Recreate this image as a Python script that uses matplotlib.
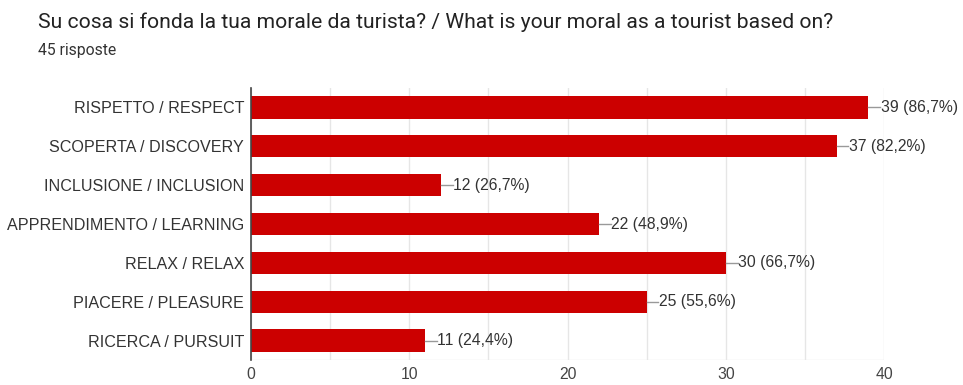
import numpy as np
from matplotlib import pyplot as plt

categories = ["RISPETTO / RESPECT", "SCOPERTA / DISCOVERY", "INCLUSIONE / INCLUSION",
              "APPRENDIMENTO / LEARNING", "RELAX / RELAX", "PIACERE / PLEASURE",
              "RICERCA / PURSUIT"]
counts = [39, 37, 12, 22, 30, 25, 11]
total = 45

plt.rcParams['font.family'] = ['Liberation Sans', 'DejaVu Sans']

fig = plt.figure(figsize=(9.63, 3.85), dpi=100)
ax = fig.add_axes([251 / 963, 1 - 360 / 385, (884 - 251) / 963, (360 - 88) / 385])

y = np.arange(len(categories))
ax.barh(y, counts, height=0.57, color="#cc0000", zorder=3)

for yi, c in zip(y, counts):
    pct = f"{c / total * 100:.1f}".replace(".", ",")
    ax.plot([c, c + 0.75], [yi, yi], color="#999999", lw=1, zorder=3)
    ax.text(c + 0.78, yi, f"{c} ({pct}%)", va="center", ha="left",
            fontsize=11.3, color="#333333")

ax.set_ylim(len(categories) - 0.5, -0.5)
ax.set_xlim(0, 40)
ax.set_yticks(y)
ax.set_yticklabels(categories, fontsize=11.6, color="#333333")
ax.set_xticks(np.arange(0, 41, 10))
ax.set_xticks(np.arange(0, 41, 5), minor=True)
ax.tick_params(axis="x", which="both", length=0, labelsize=11.3, labelcolor="#444444", pad=5)
ax.tick_params(axis="y", length=0, pad=5)
ax.grid(axis="x", which="both", color="#e6e6e6", lw=1, zorder=0)
for s in ["top", "right", "bottom"]:
    ax.spines[s].set_visible(False)
ax.axhline(len(categories) - 0.5, color="#e6e6e6", lw=1, zorder=1)
ax.spines["left"].set_color("#444444")
ax.spines["left"].set_linewidth(1.2)
ax.spines["left"].set_zorder(4)

fig.text(38 / 963, 1 - 22 / 385, "Su cosa si fonda la tua morale da turista? / What is your moral as a tourist based on?",
         fontsize=15.2, color="#222222", va="center", ha="left", family=["Roboto", "DejaVu Sans"])
fig.text(38 / 963, 1 - 50 / 385, "45 risposte", fontsize=11.3, color="#333333", va="center", ha="left",
         family=["Roboto", "DejaVu Sans"])

fig.savefig("out.png", dpi=100)
